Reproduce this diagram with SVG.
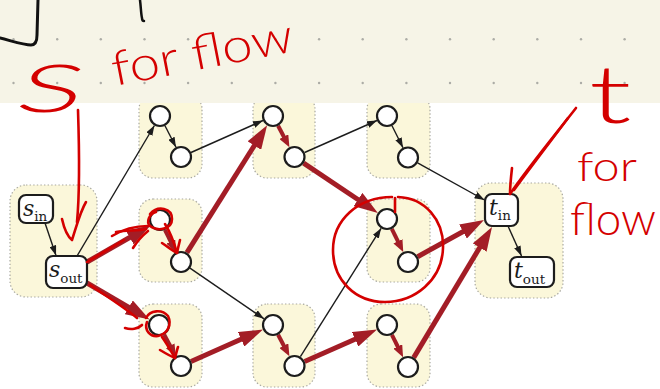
<svg xmlns="http://www.w3.org/2000/svg" width="660" height="389" viewBox="0 0 660 389">
  <style>
    .cluster { fill: #fbf7da; stroke: #a8a8a0; stroke-width: 1.2; stroke-dasharray: 1.4 2.2; }
    .node { fill: #ffffff; stroke: #1c1c1c; stroke-width: 2.2; }
    .term { fill: #ffffff; stroke: #1c1c1c; stroke-width: 2.2; }
    .k { stroke: #1c1c1c; stroke-width: 1.4; fill: none; marker-end: url(#arrK); }
    .r { stroke: #a31d26; stroke-width: 5; fill: none; marker-end: url(#arrR); }
    .rs { stroke: #a31d26; stroke-width: 4; fill: none; marker-end: url(#arrRs); }
    .lbl { font-family: "DejaVu Serif", "Liberation Serif", serif; fill: #1c1c1c; }
    .it { font-style: italic; font-size: 22px; }
    .sub { font-size: 13.5px; }
    .hw { fill: none; stroke: #d40000; stroke-width: 2.6; stroke-linecap: round; stroke-linejoin: round; }
    .hwt { font-family: Lato, "Open Sans", sans-serif; font-weight: 300; fill: #d40000; }
    .ink { fill: none; stroke: #111111; stroke-linecap: round; stroke-linejoin: round; }
  </style>
  <defs>
    <marker id="arrK" markerUnits="userSpaceOnUse" markerWidth="10" markerHeight="7" refX="10" refY="3.5" orient="auto">
      <path d="M0,0 L10,3.5 L0,7 z" fill="#1c1c1c"/>
    </marker>
    <marker id="arrR" markerUnits="userSpaceOnUse" markerWidth="24" markerHeight="16" refX="8" refY="8" orient="auto">
      <path d="M0,0 L24,8 L0,16 z" fill="#a31d26"/>
    </marker>
    <marker id="arrRs" markerUnits="userSpaceOnUse" markerWidth="12" markerHeight="10" refX="4" refY="5" orient="auto">
      <path d="M0,0 L12,5 L0,10 z" fill="#a31d26"/>
    </marker>
  </defs>

  <rect x="0" y="0" width="660" height="389" fill="#ffffff"/>

  <!-- clusters (in/out pairs) -->
  <g id="clusters">
    <rect id="cluster-s" class="cluster" x="10" y="185" width="87" height="112" rx="16"/>
    <rect id="cluster-a" class="cluster" x="139" y="95" width="63" height="83" rx="14"/>
    <rect id="cluster-b" class="cluster" x="139" y="199" width="63" height="83" rx="14"/>
    <rect id="cluster-c" class="cluster" x="139" y="304" width="63" height="83" rx="14"/>
    <rect id="cluster-d" class="cluster" x="253" y="95" width="62" height="83" rx="14"/>
    <rect id="cluster-e" class="cluster" x="253" y="304" width="62" height="83" rx="14"/>
    <rect id="cluster-f" class="cluster" x="367" y="95" width="63" height="83" rx="14"/>
    <rect id="cluster-g" class="cluster" x="367" y="199" width="63" height="83" rx="14"/>
    <rect id="cluster-h" class="cluster" x="367" y="304" width="63" height="83" rx="14"/>
    <rect id="cluster-t" class="cluster" x="475" y="183" width="88" height="115" rx="16"/>
  </g>

  <!-- edges -->
  <g id="connectors">
    <path class="k" d="M45,223 L56,255.5"/>
    <path class="k" d="M77,256 L154.4,125.5"/>
    <path class="k" d="M165,125.8 L176,147.2"/>
    <path class="k" d="M191,152.5 L263,120.5"/>
    <path class="k" d="M304.6,152.5 L377,120.5"/>
    <path class="k" d="M392,125.8 L403,147.7"/>
    <path class="k" d="M417.6,162.9 L484.5,200"/>
    <path class="k" d="M190,268.2 L264,318.8"/>
    <path class="k" d="M300.4,356.7 L381.1,228.3"/>
    <path class="k" d="M508,226 L521.5,256"/>

    <path class="r" d="M87,262 L136.6,233.5"/>
    <path class="r" d="M87,283 L135.7,311.4"/>
    <path class="r" d="M186.9,252.7 L258.6,138.8"/>
    <path class="r" d="M303.6,163.1 L364.6,204"/>
    <path class="r" d="M417.6,256.7 L470,227.7"/>
    <path class="r" d="M191,361.5 L248.4,336"/>
    <path class="r" d="M304.6,361.5 L362.4,336"/>
    <path class="r" d="M413.7,357.6 L483.8,240.7"/>

    <path class="rs" d="M164.9,229.8 L172.5,245"/>
    <path class="rs" d="M164.2,334.7 L172,349.3"/>
    <path class="rs" d="M278.1,125.7 L285.7,140.2"/>
    <path class="rs" d="M391.8,228.9 L399.7,244.9"/>
    <path class="rs" d="M278.1,334.7 L285.7,349.2"/>
    <path class="rs" d="M391.9,334.8 L399.5,350"/>
  </g>

  <!-- terminals -->
  <g id="node-s-in">
    <rect class="term" x="19" y="195" width="34" height="28" rx="7"/>
    <text class="lbl" x="23" y="216"><tspan class="it">s</tspan><tspan class="sub" dy="5">in</tspan></text>
  </g>
  <g id="node-s-out">
    <rect class="term" x="46" y="256" width="41" height="32" rx="7"/>
    <text class="lbl" x="49" y="277"><tspan class="it">s</tspan><tspan class="sub" dy="6">out</tspan></text>
  </g>
  <g id="node-t-in">
    <rect class="term" x="485" y="194" width="33" height="32" rx="7"/>
    <text class="lbl" x="489" y="215"><tspan class="it">t</tspan><tspan class="sub" dy="5">in</tspan></text>
  </g>
  <g id="node-t-out">
    <rect class="term" x="510" y="257" width="44" height="30" rx="7"/>
    <text class="lbl" x="514" y="278"><tspan class="it">t</tspan><tspan class="sub" dy="6">out</tspan></text>
  </g>

  <!-- inner vertices -->
  <g id="node-a1"><circle class="node" cx="160" cy="116" r="10"/></g>
  <g id="node-a2"><circle class="node" cx="181" cy="157" r="10"/></g>
  <g id="node-b1"><circle class="node" cx="160" cy="220" r="10"/></g>
  <g id="node-b2"><circle class="node" cx="181" cy="262" r="10"/></g>
  <g id="node-c1"><circle class="node" cx="159" cy="325" r="10"/></g>
  <g id="node-c2"><circle class="node" cx="181" cy="366" r="10"/></g>
  <g id="node-d1"><circle class="node" cx="273" cy="116" r="10"/></g>
  <g id="node-d2"><circle class="node" cx="294.5" cy="157" r="10"/></g>
  <g id="node-e1"><circle class="node" cx="273" cy="325" r="10"/></g>
  <g id="node-e2"><circle class="node" cx="294.5" cy="366" r="10"/></g>
  <g id="node-f1"><circle class="node" cx="387" cy="116" r="10"/></g>
  <g id="node-f2"><circle class="node" cx="408" cy="157.5" r="10"/></g>
  <g id="node-g1"><circle class="node" cx="387" cy="219" r="10"/></g>
  <g id="node-g2"><circle class="node" cx="408" cy="262" r="10"/></g>
  <g id="node-h1"><circle class="node" cx="387" cy="325" r="10"/></g>
  <g id="node-h2"><circle class="node" cx="408" cy="367" r="10"/></g>

  <!-- notebook strip -->
  <g id="notebook">
    <rect x="0" y="0" width="660" height="103" fill="#f6f4e7"/>
    <g fill="#acaca6">
      <circle cx="13.5" cy="39.3" r="1.2"/><circle cx="57.2" cy="39.3" r="1.2"/><circle cx="100.8" cy="39.3" r="1.2"/>
      <circle cx="144.5" cy="39.3" r="1.2"/><circle cx="188.1" cy="39.3" r="1.2"/><circle cx="231.8" cy="39.3" r="1.2"/>
      <circle cx="275.4" cy="39.3" r="1.2"/><circle cx="319.1" cy="39.3" r="1.2"/><circle cx="362.7" cy="39.3" r="1.2"/>
      <circle cx="406.4" cy="39.3" r="1.2"/><circle cx="450" cy="39.3" r="1.2"/><circle cx="493.7" cy="39.3" r="1.2"/>
      <circle cx="537.3" cy="39.3" r="1.2"/><circle cx="581" cy="39.3" r="1.2"/><circle cx="624.6" cy="39.3" r="1.2"/>
      <circle cx="13.5" cy="83" r="1.2"/><circle cx="57.2" cy="83" r="1.2"/><circle cx="100.8" cy="83" r="1.2"/>
      <circle cx="144.5" cy="83" r="1.2"/><circle cx="188.1" cy="83" r="1.2"/><circle cx="231.8" cy="83" r="1.2"/>
      <circle cx="275.4" cy="83" r="1.2"/><circle cx="319.1" cy="83" r="1.2"/><circle cx="362.7" cy="83" r="1.2"/>
      <circle cx="406.4" cy="83" r="1.2"/><circle cx="450" cy="83" r="1.2"/><circle cx="493.7" cy="83" r="1.2"/>
      <circle cx="537.3" cy="83" r="1.2"/><circle cx="581" cy="83" r="1.2"/><circle cx="624.6" cy="83" r="1.2"/>
    </g>
    <path class="ink" stroke-width="3" d="M0,38 C12,41 24,45 31,45 C36,45 37,41 37,35 L38,0"/>
    <path class="ink" stroke-width="2.5" d="M140,0 C141,8 141,14 142,18 C142,20 143,21 144,21"/>
  </g>

  <!-- red pen annotations -->
  <g id="annotations">
    <text class="hwt" font-size="70" transform="translate(13,112) scale(1.75,0.95) skewX(-8)">S</text>
    <text class="hwt" font-size="48" x="115" y="86" textLength="184" lengthAdjust="spacingAndGlyphs" transform="rotate(-11 115 86)">for flow</text>
    <text class="hwt" font-size="80" transform="translate(589,123) scale(1.55,1)">t</text>
    <text class="hwt" font-size="42" x="577" y="181" textLength="60" lengthAdjust="spacingAndGlyphs">for</text>
    <text class="hwt" font-size="46" x="570" y="235" textLength="86" lengthAdjust="spacingAndGlyphs">flow</text>

    <!-- pointer to s_out -->
    <path class="hw" d="M78,110 C79,140 80,190 77,222"/>
    <path class="hw" d="M62,219 C64,228 67,236 72,240 C76,228 80,212 86,202"/>

    <!-- marks around the first-column vertices -->
    <path class="hw" d="M87,262 L124,240"/>
    <path class="hw" d="M112,236 C125,228 138,226 148,226"/>
    <path class="hw" d="M116,232 C128,230 138,231 146,229"/>
    <path class="hw" d="M133,248 C138,240 143,235 148,231"/>
    <path class="hw" d="M150,214 C158,205 172,208 172,219 C172,229 158,232 150,226 C146,222 149,214 156,212"/>
    <path class="hw" d="M165,224 C170,232 174,242 177,253"/>
    <path class="hw" d="M162,243 C168,247 173,251 177,253 C178,248 179,244 180,240"/>

    <path class="hw" d="M90,285 C105,295 125,308 137,318"/>
    <path class="hw" d="M125,328 C131,330 138,329 142,325"/>
    <path class="hw" d="M146,318 C150,310 162,309 168,316 C172,324 168,334 158,336 C150,337 144,330 147,322"/>
    <path class="hw" d="M162,337 C167,344 171,351 175,358"/>
    <path class="hw" d="M160,350 C165,353 170,356 175,358 C176,354 177,350 178,347"/>

    <!-- ring around the middle vertex pair -->
    <path class="hw" d="M398,197 C425,198 444,220 443,248 C442,280 415,302 385,302 C355,302 333,280 333,250 C333,220 358,197 392,197"/>
    <path class="hw" d="M395,198 L395,212"/>

    <!-- pointer to t_in -->
    <path class="hw" d="M576,108 C555,135 530,165 510,194"/>
    <path class="hw" d="M568,118 C550,142 530,168 514,190"/>
    <path class="hw" d="M512,168 C511,177 510,186 510,194"/>
  </g>
</svg>
